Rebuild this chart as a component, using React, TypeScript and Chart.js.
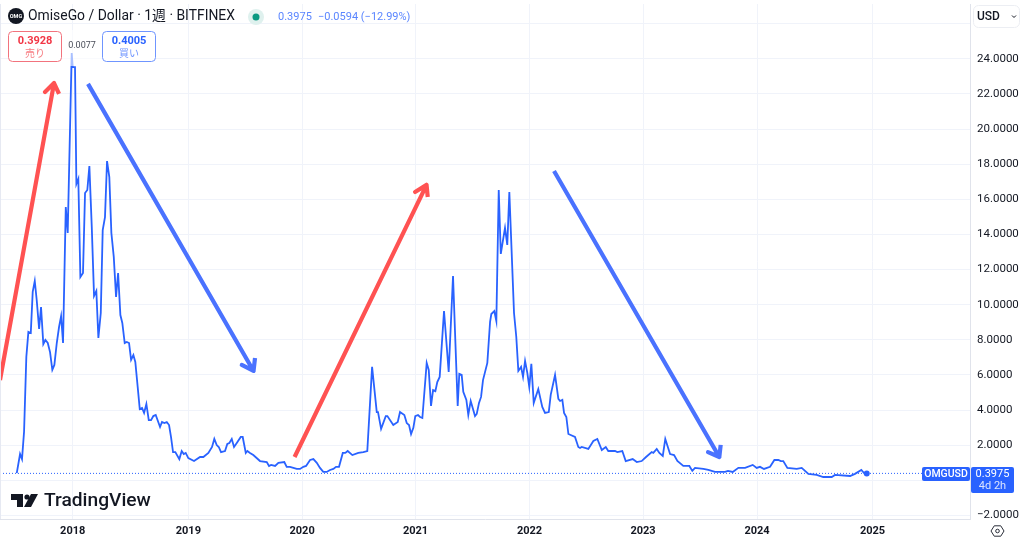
import React, { useEffect, useRef } from "react";
import { Chart, registerables } from "chart.js";

Chart.register(...registerables);

const weekYears = [
  2017.515, 2017.544, 2017.561, 2017.579, 2017.599, 2017.617, 2017.638, 2017.655, 2017.673, 2017.69, 2017.711, 2017.728, 2017.748, 2017.766, 2017.787, 2017.807, 2017.827, 2017.845, 2017.866, 2017.886, 2017.904, 2017.921, 2017.945, 2017.962, 2017.997,
  2018.006, 2018.026, 2018.038, 2018.055, 2018.073, 2018.096, 2018.114, 2018.134, 2018.152, 2018.173, 2018.193, 2018.213, 2018.231, 2018.252, 2018.269, 2018.289, 2018.307, 2018.327, 2018.345, 2018.366, 2018.386, 2018.404, 2018.424, 2018.441, 2018.462, 2018.48, 2018.5, 2018.518, 2018.538, 2018.555, 2018.576, 2018.594, 2018.614, 2018.632, 2018.652, 2018.673, 2018.693, 2018.713, 2018.734, 2018.772, 2018.789, 2018.81, 2018.831, 2018.851, 2018.868, 2018.886, 2018.906, 2018.941, 2018.962, 2018.98, 2018.997,
  2019.02, 2019.07, 2019.123, 2019.152, 2019.196, 2019.228, 2019.248, 2019.269, 2019.287, 2019.307, 2019.342, 2019.362, 2019.38, 2019.401, 2019.421, 2019.445, 2019.48, 2019.497, 2019.524, 2019.538, 2019.561, 2019.59, 2019.649, 2019.708, 2019.728, 2019.746, 2019.781, 2019.81, 2019.862, 2019.883, 2019.912, 2019.971,
  2020.0, 2020.029, 2020.053, 2020.088, 2020.117, 2020.147, 2020.175, 2020.204, 2020.234, 2020.263, 2020.292, 2020.316, 2020.342, 2020.375, 2020.397, 2020.418, 2020.459, 2020.511, 2020.555, 2020.59, 2020.632, 2020.673, 2020.684, 2020.711, 2020.752, 2020.766, 2020.818, 2020.857, 2020.877, 2020.915, 2020.936, 2020.956, 2020.974, 2020.994,
  2021.011, 2021.035, 2021.053, 2021.073, 2021.111, 2021.129, 2021.149, 2021.167, 2021.187, 2021.204, 2021.225, 2021.263, 2021.304, 2021.342, 2021.362, 2021.383, 2021.397, 2021.418, 2021.432, 2021.459, 2021.476, 2021.497, 2021.535, 2021.55, 2021.57, 2021.588, 2021.605, 2021.643, 2021.667, 2021.678, 2021.704, 2021.722, 2021.743, 2021.761, 2021.798, 2021.818, 2021.836, 2021.86, 2021.877, 2021.897, 2021.915, 2021.939, 2021.956, 2021.974, 2021.994,
  2022.011, 2022.029, 2022.05, 2022.09, 2022.125, 2022.149, 2022.182, 2022.199, 2022.237, 2022.266, 2022.281, 2022.301, 2022.316, 2022.336, 2022.354, 2022.412, 2022.441, 2022.456, 2022.471, 2022.529, 2022.573, 2022.608, 2022.647, 2022.682, 2022.704, 2022.763, 2022.783, 2022.827, 2022.857, 2022.918, 2022.954, 2022.997,
  2023.035, 2023.085, 2023.099, 2023.129, 2023.152, 2023.182, 2023.204, 2023.246, 2023.281, 2023.31, 2023.362, 2023.415, 2023.441, 2023.465, 2023.538, 2023.582, 2023.64, 2023.728, 2023.754, 2023.796, 2023.845, 2023.904, 2023.971,
  2024.006, 2024.035, 2024.07, 2024.123, 2024.161, 2024.196, 2024.217, 2024.239, 2024.275, 2024.357, 2024.401, 2024.459, 2024.532, 2024.59, 2024.664, 2024.693, 2024.825, 2024.868, 2024.924, 2024.947, 2024.971,
];

const closePrices = [
  0.41, 1.5, 1.21, 2.76, 7.03, 8.45, 8.39, 10.73, 11.35, 10.27, 8.62, 9.87, 7.76, 7.99, 7.82, 7.3, 6.29, 6.57, 7.82, 8.73, 9.35, 7.82, 15.56, 14.08, 24.33,
  23.53, 23.53, 16.87, 17.16, 11.57, 11.8, 16.36, 16.53, 17.89, 14.43, 10.5, 10.78, 8.11, 9.53, 14.25, 14.99, 18.18, 17.26, 14.08, 12.72, 10.44, 11.8, 9.41, 8.96, 7.82, 7.88, 7.82, 6.86, 7.13, 6.74, 5.31, 4.06, 4.12, 3.84, 4.35, 3.43, 3.43, 3.66, 3.72, 3.04, 3.32, 3.26, 3.32, 3.15, 2.47, 1.61, 1.61, 1.21, 1.67, 1.5, 1.56,
  1.27, 1.1, 1.33, 1.33, 1.56, 1.9, 2.36, 2.01, 1.9, 1.61, 1.67, 2.07, 2.13, 2.36, 1.9, 2.13, 2.47, 2.47, 1.56, 1.67, 1.56, 1.44, 1.1, 1.04, 0.82, 0.88, 0.82, 1.0, 1.04, 0.77, 0.77, 0.65,
  0.65, 0.77, 0.82, 1.16, 1.21, 1.0, 0.71, 0.48, 0.48, 0.59, 0.65, 0.77, 0.77, 1.56, 1.56, 1.67, 1.44, 1.56, 1.61, 1.67, 6.46, 3.89, 3.89, 2.93, 3.66, 3.66, 3.15, 3.32, 3.89, 3.72, 3.26, 3.15, 2.64, 2.99,
  3.66, 3.72, 3.61, 3.55, 6.69, 6.29, 4.24, 5.14, 5.08, 5.6, 5.89, 9.64, 6.17, 11.63, 7.99, 4.24, 6.06, 6.0, 5.04, 4.58, 3.72, 4.52, 3.66, 3.78, 4.41, 4.75, 5.71, 6.69, 9.02, 9.47, 9.64, 9.07, 16.53, 12.89, 14.37, 13.4, 16.42, 12.38, 9.53, 8.16, 6.23, 6.46, 5.89, 6.8, 6.11,
  5.31, 6.63, 4.41, 5.2, 4.18, 3.84, 3.89, 4.87, 6.0, 4.64, 4.52, 4.58, 3.84, 3.61, 2.64, 2.47, 1.9, 1.84, 1.9, 1.79, 2.24, 2.36, 1.73, 1.9, 1.67, 1.67, 1.61, 1.67, 1.1, 1.21, 1.04, 1.1,
  1.33, 1.61, 1.56, 1.79, 1.56, 1.39, 2.36, 1.5, 1.44, 1.1, 0.82, 0.82, 0.54, 0.71, 0.65, 0.59, 0.48, 0.48, 0.54, 0.48, 0.71, 0.71, 0.88,
  0.71, 0.77, 0.65, 0.77, 1.16, 1.16, 1.1, 1.1, 0.71, 0.65, 0.71, 0.37, 0.31, 0.19, 0.19, 0.31, 0.25, 0.37, 0.59, 0.42, 0.3975,
];

const yearLabels = ["2018", "2019", "2020", "2021", "2022", "2023", "2024", "2025"];
const yearTickPositions = [2018.006, 2019.02, 2020.018, 2021.013, 2022.013, 2023.009, 2024.009, 2025.022];
const priceTicks = [-2, 0, 2, 4, 6, 8, 10, 12, 14, 16, 18, 20, 22, 24, 26];
const hiddenPriceLabels = [0, 26];

const lastPrice = 0.3975;
const priceLineYears = [2017.368, 2025.877];

const redArrowA = { x: [2017.368, 2017.842, 2017.763, 2017.842, 2017.886], y: [5.71, 22.62, 22.11, 22.62, 22.0] };
const blueArrowA = { x: [2018.14, 2019.592, 2019.489, 2019.592, 2019.605], y: [22.57, 6.23, 6.57, 6.23, 6.97] };
const redArrowB = { x: [2019.952, 2021.11, 2021.009, 2021.11, 2021.12], y: [1.33, 16.82, 16.42, 16.82, 16.13] };
const blueArrowB = { x: [2022.228, 2023.678, 2023.579, 2023.678, 2023.69], y: [17.61, 1.33, 1.61, 1.33, 2.02] };

const BLUE = "#2962ff";
const RED = "#ff5252";
const ARROW_BLUE = "#4a72ff";
const INK = "#131722";
const FONT = "Roboto, 'Noto Sans CJK JP', sans-serif";

const toPoints = (xs: number[], ys: number[]) => xs.map((x, i) => ({ x, y: ys[i] }));

const arrowDataset = (a: { x: number[]; y: number[] }, color: string) => ({
  data: toPoints(a.x, a.y),
  borderColor: color,
  borderWidth: 4.2,
  pointRadius: 0,
  tension: 0,
  borderJoinStyle: "round" as const,
  borderCapStyle: "butt" as const,
});

function text(ctx: CanvasRenderingContext2D, s: string, x: number, y: number, font: string, color: string, align: CanvasTextAlign = "left") {
  ctx.font = font;
  ctx.fillStyle = color;
  ctx.textAlign = align;
  ctx.textBaseline = "middle";
  ctx.fillText(s, x, y);
}

function roundBox(ctx: CanvasRenderingContext2D, x: number, y: number, w: number, h: number, r: number, fill: string | null, stroke: string | null) {
  ctx.beginPath();
  ctx.roundRect(x, y, w, h, r);
  if (fill) { ctx.fillStyle = fill; ctx.fill(); }
  if (stroke) { ctx.strokeStyle = stroke; ctx.lineWidth = 1; ctx.stroke(); }
}

const overlay = {
  id: "overlay",
  afterDraw(chart: Chart) {
    const ctx = chart.ctx;
    ctx.save();
    // left edge
    ctx.fillStyle = "#e6e9f2";
    ctx.fillRect(0, 4, 1, 515);
    // fade over the peak, under the legend
    ctx.fillStyle = "rgba(255,255,255,0.6)";
    ctx.fillRect(62, 30, 40, 36);
    // header
    ctx.beginPath(); ctx.arc(16, 16, 8, 0, Math.PI * 2); ctx.fillStyle = "#131722"; ctx.fill();
    text(ctx, "OMG", 16, 16.5, `bold 5.5px ${FONT}`, "#ffffff", "center");
    text(ctx, "OmiseGo / Dollar · 1週 · BITFINEX", 28, 17, `13.9px ${FONT}`, INK);
    ctx.beginPath(); ctx.arc(256, 17, 8, 0, Math.PI * 2); ctx.fillStyle = "#dff1ee"; ctx.fill();
    ctx.beginPath(); ctx.arc(256, 17, 3.5, 0, Math.PI * 2); ctx.fillStyle = "#089981"; ctx.fill();
    text(ctx, "0.3975", 278, 17.5, `11px ${FONT}`, "#5b86ff");
    text(ctx, "−0.0594 (−12.99%)", 318, 17.5, `11px ${FONT}`, "#5b86ff");
    // sell / buy
    roundBox(ctx, 8.5, 31.5, 53, 30, 4, "#ffffff", "#f2737d");
    text(ctx, "0.3928", 35, 41.5, `bold 11px ${FONT}`, "#f23645", "center");
    text(ctx, "売り", 35, 54, `10px ${FONT}`, "#f77c80", "center");
    roundBox(ctx, 102.5, 31.5, 53, 30, 4, "#ffffff", "#6f95ff");
    text(ctx, "0.4005", 129, 41.5, `bold 11px ${FONT}`, BLUE, "center");
    text(ctx, "買い", 129, 54, `10px ${FONT}`, "#6f95ff", "center");
    text(ctx, "0.0077", 82, 46, `9px ${FONT}`, "#4a4e59", "center");
    // currency selector
    roundBox(ctx, 973.5, 5.5, 46, 22, 5, "#ffffff", "#eceef3");
    text(ctx, "USD", 977, 16.5, `500 12px ${FONT}`, INK);
    ctx.beginPath(); ctx.moveTo(1012, 15.5); ctx.lineTo(1014, 17.5); ctx.lineTo(1016, 15.5);
    ctx.strokeStyle = INK; ctx.lineWidth = 1; ctx.stroke();
    // series tags
    roundBox(ctx, 922, 467, 48, 14, 2, BLUE, null);
    text(ctx, "OMGUSD", 946, 474.5, `500 10.5px ${FONT}`, "#ffffff", "center");
    roundBox(ctx, 971, 467, 43, 26, 2, BLUE, null);
    text(ctx, "0.3975", 992.5, 474, `11px ${FONT}`, "#ffffff", "center");
    text(ctx, "4d 2h", 992.5, 486, `11px ${FONT}`, "#dbe4ff", "center");
    // settings glyph
    ctx.beginPath();
    for (let i = 0; i < 6; i++) {
      const a = (Math.PI / 3) * i;
      const px = 997.5 + 6.5 * Math.cos(a), py = 531 + 6 * Math.sin(a);
      if (i === 0) ctx.moveTo(px, py); else ctx.lineTo(px, py);
    }
    ctx.closePath();
    ctx.strokeStyle = "#2a2e39"; ctx.lineWidth = 1; ctx.stroke();
    ctx.beginPath(); ctx.arc(997.5, 531, 1.8, 0, Math.PI * 2); ctx.stroke();
    // watermark
    ctx.fillStyle = "#131722";
    ctx.beginPath();
    ctx.moveTo(11, 494); ctx.lineTo(23, 494); ctx.lineTo(23, 507); ctx.lineTo(17, 507); ctx.lineTo(17, 500); ctx.lineTo(11, 500);
    ctx.closePath(); ctx.fill();
    ctx.beginPath(); ctx.arc(27, 497, 2.6, 0, Math.PI * 2); ctx.fill();
    ctx.beginPath();
    ctx.moveTo(31, 494); ctx.lineTo(38, 494); ctx.lineTo(31, 507); ctx.lineTo(24, 507);
    ctx.closePath(); ctx.fill();
    text(ctx, "TradingView", 44, 501, `500 19.2px ${FONT}`, "#131722");
    ctx.restore();
  },
};

export default function App() {
  const ref = useRef<HTMLCanvasElement>(null);

  useEffect(() => {
    if (!ref.current) return;
    const chart = new Chart(ref.current, {
      type: "line",
      data: {
        datasets: [
          {
            data: toPoints(priceLineYears, [lastPrice, lastPrice]),
            borderColor: BLUE,
            borderWidth: 1,
            borderDash: [1, 2],
            pointRadius: 0,
          },
          {
            data: toPoints(weekYears, closePrices),
            borderColor: BLUE,
            backgroundColor: BLUE,
            borderWidth: 1.8,
            tension: 0,
            pointRadius: (c: any) => (c.dataIndex === weekYears.length - 1 ? 3 : 0),
            pointBorderWidth: 0,
          },
          arrowDataset(redArrowA, RED),
          arrowDataset(blueArrowA, ARROW_BLUE),
          arrowDataset(redArrowB, RED),
          arrowDataset(blueArrowB, ARROW_BLUE),
        ],
      },
      plugins: [overlay],
      options: {
        animation: false,
        responsive: false,
        layout: { autoPadding: false, padding: { top: 4, left: 0, right: 0, bottom: 0 } },
        plugins: { legend: { display: false }, tooltip: { enabled: false } },
        scales: {
          x: {
            type: "linear",
            min: 2017.368,
            max: 2025.877,
            afterBuildTicks: (s: any) => { s.ticks = yearTickPositions.map((value) => ({ value })); },
            afterFit: (s: any) => { s.height = 23; s.paddingLeft = 0; s.paddingRight = 0; },
            grid: { color: "#f0f3fa", drawTicks: false },
            border: { color: "#e0e3eb" },
            ticks: {
              autoSkip: false,
              maxRotation: 0,
              padding: 6,
              color: INK,
              font: { family: "Roboto", size: 11, weight: "bold" },
              callback: (_v: any, i: number) => yearLabels[i],
            },
          },
          y: {
            type: "linear",
            position: "right",
            min: -2.2,
            max: 27.12,
            afterBuildTicks: (s: any) => { s.ticks = priceTicks.map((value) => ({ value })); },
            afterFit: (s: any) => { s.width = 54; s.paddingTop = 0; s.paddingBottom = 0; },
            grid: { color: "#f0f3fa", drawTicks: false },
            border: { color: "#e0e3eb" },
            ticks: {
              autoSkip: false,
              padding: 7,
              color: INK,
              font: { family: "Roboto", size: 11.5 },
              callback: (v: any) =>
                hiddenPriceLabels.includes(v) ? "" : (v < 0 ? "−" : "") + Math.abs(v).toFixed(4),
            },
          },
        },
      },
    } as any);
    return () => chart.destroy();
  }, []);

  return (
    <div style={{ position: "fixed", left: 0, top: 0, width: 1024, height: 542, background: "#fff" }}>
      <canvas ref={ref} width={1024} height={542} style={{ display: "block", width: 1024, height: 542 }} />
    </div>
  );
}
